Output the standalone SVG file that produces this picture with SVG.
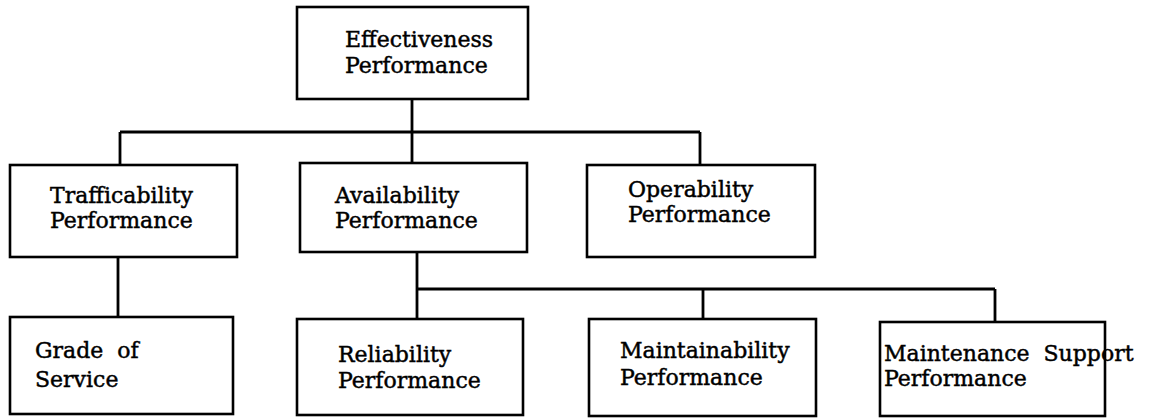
<svg xmlns="http://www.w3.org/2000/svg" width="1153" height="419" viewBox="0 0 1153 419">
<style>
.box{fill:#fff;stroke:#000;stroke-width:2.6}
.ln{fill:none;stroke:#000;stroke-width:2.8}
text{font-family:"DejaVu Serif","Liberation Serif",serif;font-size:22px;fill:#000;stroke:#000;stroke-width:0.45}
</style>
<rect width="1153" height="419" fill="#fff"/>
<g id="connectors">
<path class="ln" d="M412,99 V163 M120,132 H700 M120,132 V165 M700,132 V165"/>
<path class="ln" d="M118,257 V317 M417,252 V319 M417,289 H995 M703,289 V319 M995,289 V322"/>
</g>
<g id="effectiveness">
<rect class="box" x="297" y="7" width="231" height="92"/>
<text x="345" y="47">Effectiveness</text>
<text x="345" y="73">Performance</text>
</g>
<g id="trafficability">
<rect class="box" x="10" y="165" width="227" height="92"/>
<text x="50" y="203">Trafficability</text>
<text x="50" y="228">Performance</text>
</g>
<g id="availability">
<rect class="box" x="300" y="163" width="227" height="89"/>
<text x="335" y="203">Availability</text>
<text x="335" y="228">Performance</text>
</g>
<g id="operability">
<rect class="box" x="587" y="165" width="228" height="92"/>
<text x="628" y="197">Operability</text>
<text x="628" y="222">Performance</text>
</g>
<g id="grade">
<rect class="box" x="10" y="317" width="223" height="97"/>
<text x="35" y="358" xml:space="preserve">Grade  of</text>
<text x="35" y="387">Service</text>
</g>
<g id="reliability">
<rect class="box" x="297" y="319" width="226" height="96"/>
<text x="338" y="362">Reliability</text>
<text x="338" y="388">Performance</text>
</g>
<g id="maintainability">
<rect class="box" x="589" y="319" width="227" height="97"/>
<text x="620" y="358">Maintainability</text>
<text x="620" y="385">Performance</text>
</g>
<g id="maintenance-support">
<rect class="box" x="880" y="322" width="225" height="94"/>
<text x="884" y="361" xml:space="preserve">Maintenance  Support</text>
<text x="884" y="386">Performance</text>
</g>
</svg>
